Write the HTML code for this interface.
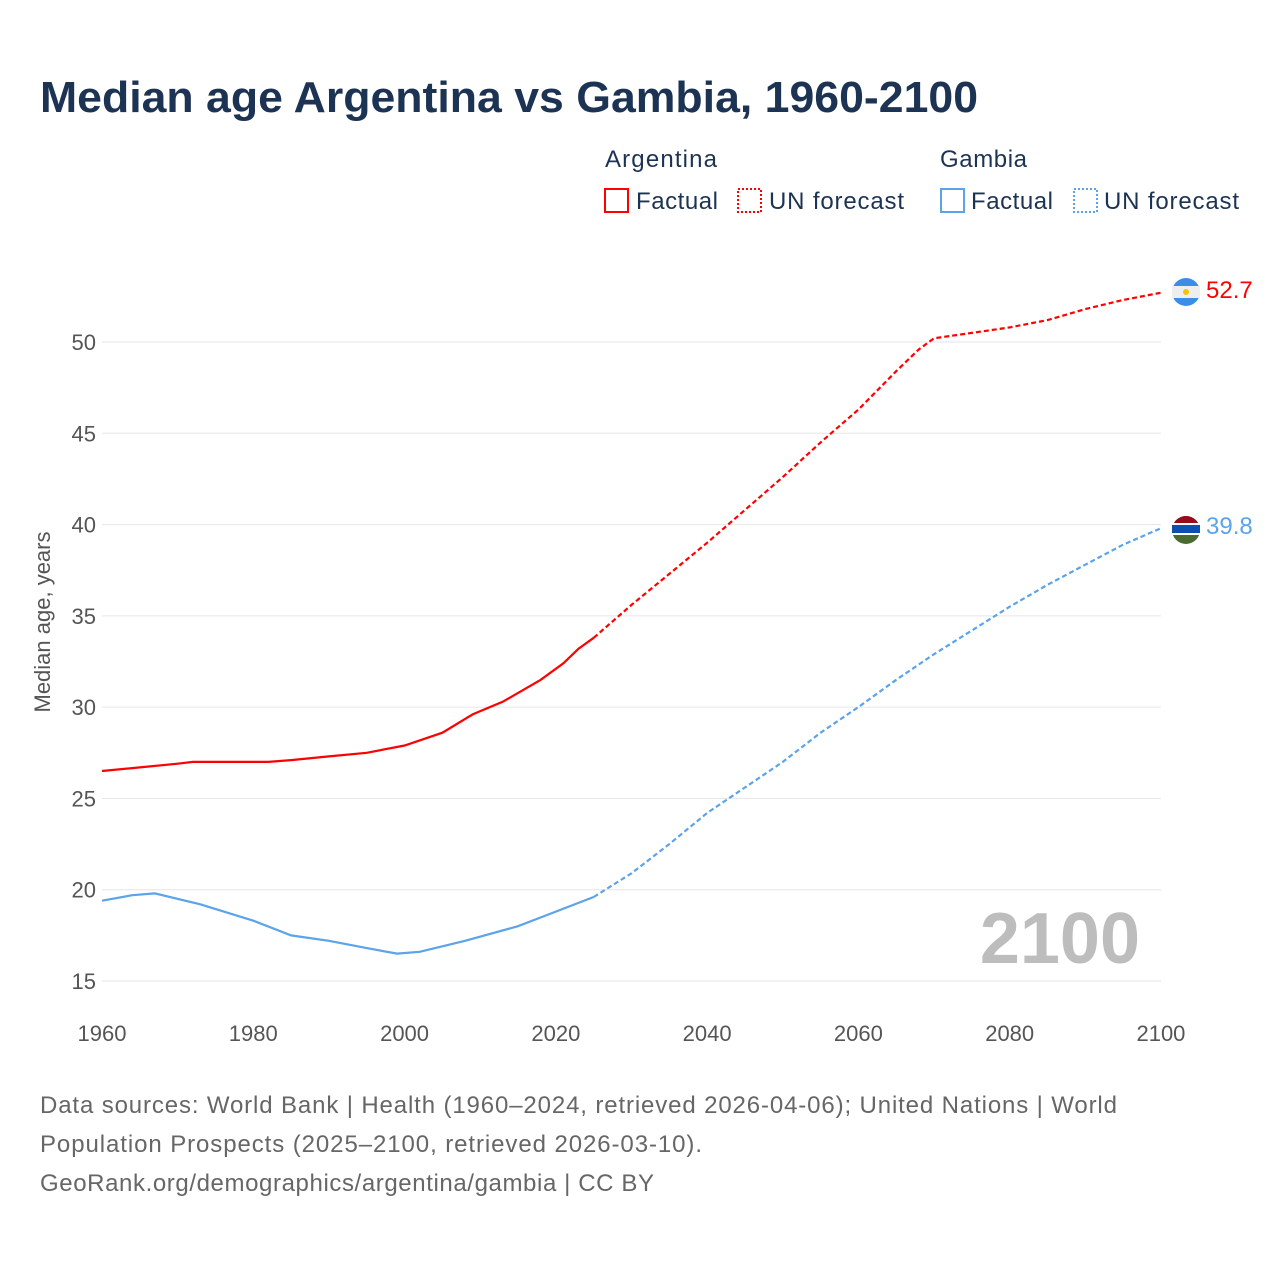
<!DOCTYPE html>
<html><head><meta charset="utf-8"><style>
body{margin:0;background:#fff;font-family:"Liberation Sans",sans-serif}
</style></head><body>
<svg id="s" width="1280" height="1280" xmlns="http://www.w3.org/2000/svg" font-family="Liberation Sans, sans-serif">
<rect width="1280" height="1280" fill="#fff"/>
<text x="40" y="112" font-size="44" font-weight="bold" fill="#1c3353" textLength="938" lengthAdjust="spacingAndGlyphs">Median age Argentina vs Gambia, 1960-2100</text>
<g font-size="24" fill="#1c3353">
<text x="605" y="167" textLength="112">Argentina</text>
<text x="940" y="167" textLength="87">Gambia</text>
<rect x="605" y="189" width="23" height="23" fill="none" stroke="#f00" stroke-width="2"/>
<text x="636" y="209" textLength="82">Factual</text>
<rect x="738" y="189" width="23" height="23" fill="none" stroke="#f00" stroke-width="2" stroke-dasharray="2,2"/>
<text x="769" y="209" textLength="135">UN forecast</text>
<rect x="941" y="189" width="23" height="23" fill="none" stroke="#5ba3ea" stroke-width="2"/>
<text x="971" y="209" textLength="82">Factual</text>
<rect x="1074" y="189" width="23" height="23" fill="none" stroke="#5ba3ea" stroke-width="2" stroke-dasharray="2,2"/>
<text x="1104" y="209" textLength="135">UN forecast</text>
</g>
<g id="grid" stroke="#e6e6e6" stroke-width="1"></g>
<g id="yl" font-size="22" fill="#555" text-anchor="end"></g>
<g id="xl" font-size="22" fill="#555" text-anchor="middle"></g>
<text transform="translate(50,622) rotate(-90)" font-size="22" fill="#555" text-anchor="middle">Median age, years</text>
<text x="1140" y="963" font-size="72" font-weight="bold" fill="#bdbdbd" text-anchor="end">2100</text>
<g id="lines"></g>
<circle cx="1186" cy="292" r="14" fill="#3b8ee8"/>
<rect x="1172" y="286" width="28" height="12" fill="#eee"/>
<circle cx="1186" cy="292" r="3" fill="#f5c400"/>
<circle cx="1186" cy="530" r="14" fill="#4a6b30"/>
<path d="M1172,530 A14,14 0 0,1 1200,530 Z" fill="#9a0a1a"/>
<rect x="1172" y="523" width="28" height="12" fill="#fff"/>
<rect x="1172" y="525" width="28" height="8" fill="#0b4fb0"/>
<text x="1206" y="298" font-size="24" fill="#f00">52.7</text>
<text x="1206" y="534" font-size="24" fill="#5ba3ea">39.8</text>
<g font-size="24" fill="#666">
<text x="40" y="1113" textLength="1077">Data sources: World Bank | Health (1960–2024, retrieved 2026-04-06); United Nations | World</text>
<text x="40" y="1152" textLength="662">Population Prospects (2025–2100, retrieved 2026-03-10).</text>
<text x="40" y="1191" textLength="614">GeoRank.org/demographics/argentina/gambia | CC BY</text>
</g>
</svg>
<script>
var X=y=>102+(y-1960)*7.564, Y=v=>342+(50-v)*18.257, ns="http://www.w3.org/2000/svg";
function el(p,t,a,txt){var e=document.createElementNS(ns,t);for(var k in a)e.setAttribute(k,a[k]);if(txt)e.textContent=txt;document.getElementById(p).appendChild(e);}
for(var v=15;v<=50;v+=5){el("grid","line",{x1:102,x2:1161,y1:Y(v),y2:Y(v)});el("yl","text",{x:96,y:Y(v)+8},v);}
for(var y=1960;y<=2100;y+=20)el("xl","text",{x:X(y),y:1041},y);
function P(d){return d.map((p,i)=>(i?"L":"M")+X(p[0]).toFixed(1)+","+Y(p[1]).toFixed(1)).join("");}
var af=[[1960,26.5],[1965,26.7],[1970,26.9],[1972,27.0],[1982,27.0],[1985,27.1],[1990,27.3],[1995,27.5],[2000,27.9],[2005,28.6],[2009,29.6],[2013,30.3],[2018,31.5],[2021,32.4],[2023,33.2],[2025,33.8]];
var ap=[[2025,33.8],[2030,35.6],[2035,37.3],[2040,39.0],[2045,40.8],[2050,42.6],[2055,44.5],[2060,46.3],[2065,48.4],[2068,49.6],[2070,50.2],[2075,50.5],[2080,50.8],[2085,51.2],[2090,51.8],[2095,52.3],[2100,52.7]];
var gf=[[1960,19.4],[1964,19.7],[1967,19.8],[1973,19.2],[1980,18.3],[1985,17.5],[1990,17.2],[1995,16.8],[1999,16.5],[2002,16.6],[2008,17.2],[2015,18.0],[2020,18.8],[2025,19.6]];
var gp=[[2025,19.6],[2030,20.9],[2035,22.5],[2040,24.2],[2045,25.6],[2050,27.0],[2055,28.6],[2060,30.0],[2065,31.5],[2070,32.9],[2075,34.2],[2080,35.5],[2085,36.7],[2090,37.8],[2095,38.9],[2100,39.8]];
el("lines","path",{d:P(af),fill:"none",stroke:"#f00","stroke-width":2.2});
el("lines","path",{d:P(ap),fill:"none",stroke:"#f00","stroke-width":2.2,"stroke-dasharray":"5,3"});
el("lines","path",{d:P(gf),fill:"none",stroke:"#5ba3ea","stroke-width":2.2});
el("lines","path",{d:P(gp),fill:"none",stroke:"#5ba3ea","stroke-width":2.2,"stroke-dasharray":"5,3"});
</script>
</body></html>
